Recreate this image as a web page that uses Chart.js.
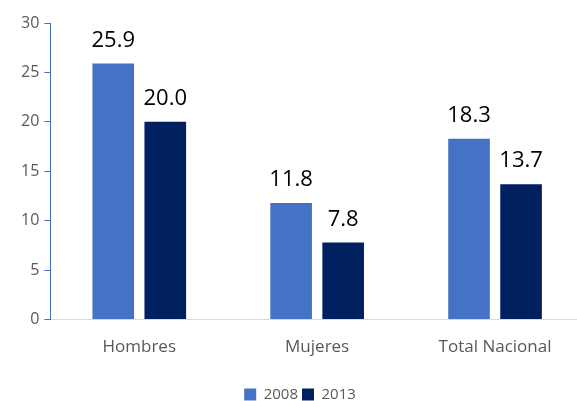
<!DOCTYPE html>
<html>
<head>
<meta charset="utf-8">
<script src="https://cdn.jsdelivr.net/npm/chart.js@4/dist/chart.umd.min.js"></script>
<style>
  html, body { margin: 0; padding: 0; background: #fff; overflow: hidden; }
  #wrap { width: 584px; height: 401px; }
</style>
</head>
<body>
<div id="wrap"><canvas id="chartId"></canvas></div>
<script>
const categories = ["Hombres", "Mujeres", "Total Nacional"];
const years = ["2008", "2013"];
const values2008 = [25.9, 11.8, 18.3];
const values2013 = [20.0, 7.8, 13.7];
const yTicks = [0, 5, 10, 15, 20, 25, 30];

const FONT = "'Open Sans', 'Liberation Sans', sans-serif";

// writes the value above each bar
const valueLabels = {
  id: "valueLabels",
  afterDatasetsDraw(chart) {
    const ctx = chart.ctx;
    ctx.save();
    ctx.font = "22px " + FONT;
    ctx.fillStyle = "#000";
    ctx.textAlign = "center";
    ctx.textBaseline = "bottom";
    chart.data.datasets.forEach((ds, i) => {
      chart.getDatasetMeta(i).data.forEach((bar, j) => {
        ctx.fillText(ds.data[j].toFixed(1), bar.x, bar.y - 12);
      });
    });
    ctx.restore();
  },
};

new Chart(document.getElementById("chartId"), {
  type: "bar",
  data: {
    labels: categories,
    datasets: [
      { label: years[0], data: values2008, backgroundColor: "#4472C4" },
      { label: years[1], data: values2013, backgroundColor: "#002060" },
    ],
  },
  options: {
    animation: false,
    responsive: true,
    maintainAspectRatio: false,
    categoryPercentage: 0.585,
    barPercentage: 0.8,
    layout: { padding: { top: 23, right: 0, left: 16, bottom: -11 } },
    plugins: {
      legend: {
        position: "bottom",
        labels: {
          boxWidth: 12,
          boxHeight: 12,
          color: "#595959",
          font: { family: FONT, size: 15 },
          padding: 4,
        },
      },
      tooltip: { enabled: false },
    },
    scales: {
      x: {
        afterFit(axis) {
          axis.height += 17;
        },
        grid: { display: false },
        border: { color: "#D9D9D9", width: 1 },
        ticks: { color: "#595959", font: { family: FONT, size: 17 }, padding: 9 },
      },
      y: {
        min: 0,
        max: 30,
        afterBuildTicks(axis) {
          axis.ticks = yTicks.map((v) => ({ value: v }));
        },
        grid: { drawOnChartArea: false, drawTicks: true, tickLength: 6, color: "#4472C4" },
        border: { color: "#4472C4", width: 1 },
        ticks: { color: "#595959", font: { family: FONT, size: 16 }, padding: 5 },
      },
    },
  },
  plugins: [valueLabels],
});
</script>
</body>
</html>
